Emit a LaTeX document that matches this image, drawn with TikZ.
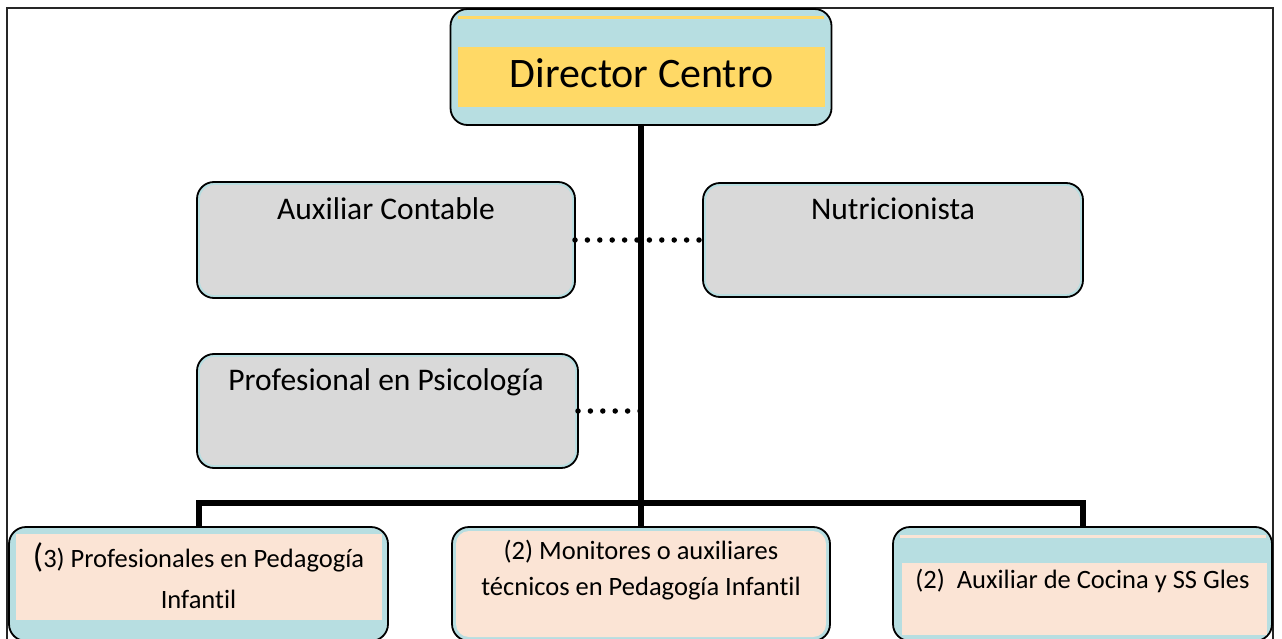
\documentclass[tikz,border=0pt]{standalone}
\usepackage{fontspec}
\setmainfont{Carlito}[Ligatures=NoCommon]
\definecolor{boxblue}{HTML}{B7DEE1}
\definecolor{boxgray}{HTML}{D9D9D9}
\definecolor{boxpeach}{HTML}{FBE4D5}
\definecolor{boxgold}{HTML}{FFD966}
\begin{document}
\begin{tikzpicture}[x=1pt,y=-1pt,
  orgbox/.style={draw=black, line width=1.8pt, rounded corners=17pt, fill=boxblue,
                 inner sep=0pt, outer sep=0pt},
  lbl/.style={inner sep=0pt, outer sep=0pt, text=black},
  bigtxt/.style={lbl, font=\fontsize{42}{50}\selectfont},
  midtxt/.style={lbl, font=\fontsize{31.5}{38}\selectfont},
  smalltxt/.style={lbl, font=\fontsize{26.5}{36}\selectfont, align=center},
  trunk/.style={line width=6pt, black, line join=miter},
  dotline/.style={line width=5.5pt, line cap=round, dash pattern=on 0pt off 12.4pt, black},
  frameline/.style={line width=2pt, black!85}
]
\useasboundingbox (0,0) rectangle (1282,639);
\clip (0,0) rectangle (1282,639);

% outer frame
\draw[frameline] (7,650) -- (7,8) -- (1273,8) -- (1273,650);

% boxes
\node[orgbox, minimum width=381pt, minimum height=116pt] (dir) at (641,67) {};
\node[orgbox, minimum width=378pt, minimum height=116pt] (auxc) at (386,240) {};
\node[orgbox, minimum width=380pt, minimum height=114pt] (nutri) at (893,240) {};
\node[orgbox, minimum width=381pt, minimum height=114pt] (psico) at (387.5,411) {};
\node[orgbox, minimum width=379pt, minimum height=114pt] (prof) at (198.5,584) {};
\node[orgbox, minimum width=378pt, minimum height=114pt] (moni) at (641,584) {};
\node[orgbox, minimum width=379pt, minimum height=114pt] (coci) at (1082.5,584) {};

% inner fills
\fill[boxgold] (458,16) rectangle (824,19);
\fill[boxgold] (458,47) rectangle (825,107);
\fill[boxgray, rounded corners=14pt] (200,185) rectangle (572,295);
\fill[boxgray, rounded corners=14pt] (706,186) rectangle (1080,294);
\fill[boxgray, rounded corners=14pt] (200,357) rectangle (575,465);
\fill[boxpeach] (16,534) rectangle (382,620);
\fill[boxpeach, rounded corners=13pt] (456,531) rectangle (826,637);
\fill[boxpeach] (900,535) rectangle (1266,538);
\fill[boxpeach] (902,563) rectangle (1267,635);

% connectors
\coordinate (trunkP) at (dir.south |- psico.east);
\draw[dotline] (auxc.east) -- (nutri.west);
\draw[dotline] (psico.east) -- (trunkP);
\draw[trunk] (dir.south) -- (moni.north);
\draw[trunk] (prof.north) -- ++(0,-24) -| (coci.north);

% texts
\node[bigtxt, anchor=base] (tdir) at (641.5,88) {Director Centro};
\node[midtxt, anchor=base] (tauxc) at (386,219) {Auxiliar Contable};
\node[midtxt, anchor=base] (tnutri) at (893,219) {Nutricionista};
\node[midtxt, anchor=base] (tpsico) at (386,390) {Profesional en Psicología};
\node[smalltxt, anchor=base, font=\fontsize{26.5}{41}\selectfont] (tprof) at (198.5,608)
  {{\fontsize{34}{34}\selectfont (}3) Profesionales en Pedagogía\\Infantil};
\node[smalltxt, anchor=base] (tmoni) at (641,595)
  {(2) Monitores o auxiliares\\técnicos en Pedagogía Infantil};
\node[smalltxt, anchor=base] (tcoci) at (1082.5,588) {(2)\ \ Auxiliar de Cocina y SS Gles};
\end{tikzpicture}
\end{document}
